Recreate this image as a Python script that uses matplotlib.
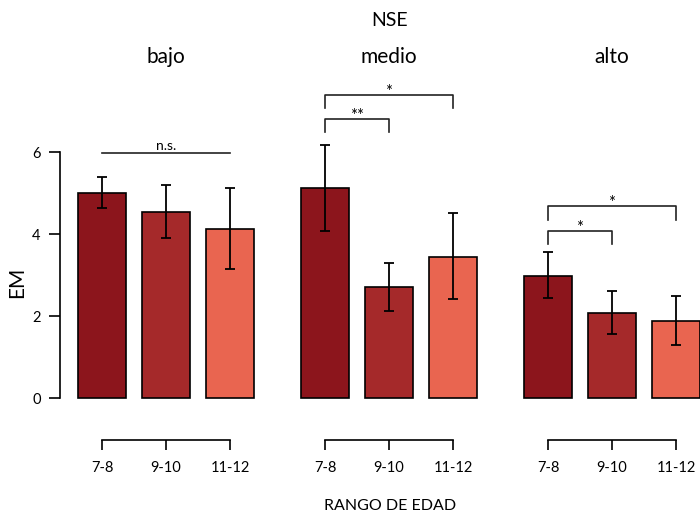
import matplotlib
matplotlib.use('Agg')
import matplotlib.pyplot as plt

plt.rcParams['font.family'] = ['Lato', 'DejaVu Sans']

# data
grupos = ['bajo', 'medio', 'alto']
edades = ['7-8', '9-10', '11-12']
medias = [[5.00, 4.54, 4.12],
          [5.12, 2.71, 3.44],
          [2.98, 2.07, 1.88]]
err_sup = [[5.39, 5.20, 5.12],
           [6.17, 3.29, 4.51],
           [3.56, 2.61, 2.49]]
err_inf = [[4.63, 3.90, 3.15],
           [4.07, 2.12, 2.41],
           [2.44, 1.56, 1.29]]
# significance brackets per panel: (from bar, to bar, height, leg drop, label)
signif = [[(0, 2, 5.98, 0.0, 'n.s.')],
          [(0, 1, 6.80, 0.31, '**'), (0, 2, 7.39, 0.32, '*')],
          [(0, 1, 4.07, 0.31, '*'), (0, 2, 4.68, 0.34, '*')]]
colores = ['#8C151C', '#A5292A', '#E96550']

W, H = 700, 514
fig = plt.figure(figsize=(W / 100, H / 100), dpi=100)

px_x = 64.0   # pixels per bar slot
px_y = 41.0   # pixels per y unit
ylo, yhi = -1.2, 7.8
bottom_px = 398 + (-ylo) * px_y
height_px = (yhi - ylo) * px_y
xlo, xhi = -42 / px_x, (223 - 42) / px_x
panel_left = [60, 283, 506]

for g in range(3):
    ax = fig.add_axes([panel_left[g] / W, 1 - bottom_px / H, 223 / W, height_px / H])
    ax.set_xlim(xlo, xhi)
    ax.set_ylim(ylo, yhi)
    ax.patch.set_alpha(0)
    x = list(range(3))
    m = medias[g]
    yerr = [[m[i] - err_inf[g][i] for i in x], [err_sup[g][i] - m[i] for i in x]]
    ax.bar(x, m, width=0.75, color=colores, edgecolor='black', linewidth=1.2, zorder=2)
    ax.errorbar(x, m, yerr=yerr, fmt='none', ecolor='black', elinewidth=1.3,
                capsize=3.5, capthick=1.3, zorder=3)
    for (a, b, h, d, lab) in signif[g]:
        ax.plot([a, a, b, b], [h - d, h, h, h - d], color='#222222', lw=1.2, clip_on=False)
        if lab == 'n.s.':
            ax.text((a + b) / 2, h + 0.02, lab, ha='center', va='bottom', fontsize=10)
        else:
            ax.text((a + b) / 2, h - 0.12, lab, ha='center', va='bottom', fontsize=12)
    for s in ['top', 'right']:
        ax.spines[s].set_visible(False)
    ax.spines['bottom'].set_position(('data', -1.02))
    ax.spines['bottom'].set_bounds(0, 2)
    ax.set_xticks(x)
    ax.set_xticklabels(edades, fontsize=10.5)
    ax.tick_params(axis='x', length=7, width=1.2, pad=8)
    if g == 0:
        ax.spines['left'].set_bounds(0, 6)
        ax.set_yticks([0, 2, 4, 6])
        ax.set_yticklabels(['0', '2', '4', '6'], fontsize=10.5)
        ax.tick_params(axis='y', length=8, width=1.2, pad=6)
        ax.set_ylabel('EM', fontsize=15)
        ax.yaxis.set_label_coords(-0.148, (2.83 - ylo) / (yhi - ylo))
    else:
        ax.spines['left'].set_visible(False)
        ax.set_yticks([])
    for s in ['left', 'bottom']:
        ax.spines[s].set_linewidth(1.2)
    fig.text((panel_left[g] + 42 + px_x) / W, 1 - 57 / H, grupos[g],
             ha='center', va='center', fontsize=15)

fig.text(390 / W, 1 - 20 / H, 'NSE', ha='center', va='center', fontsize=14)
fig.text(390 / W, 1 - 506 / H, 'RANGO DE EDAD', ha='center', va='center', fontsize=11.5)

fig.savefig('out.png', dpi=100)
